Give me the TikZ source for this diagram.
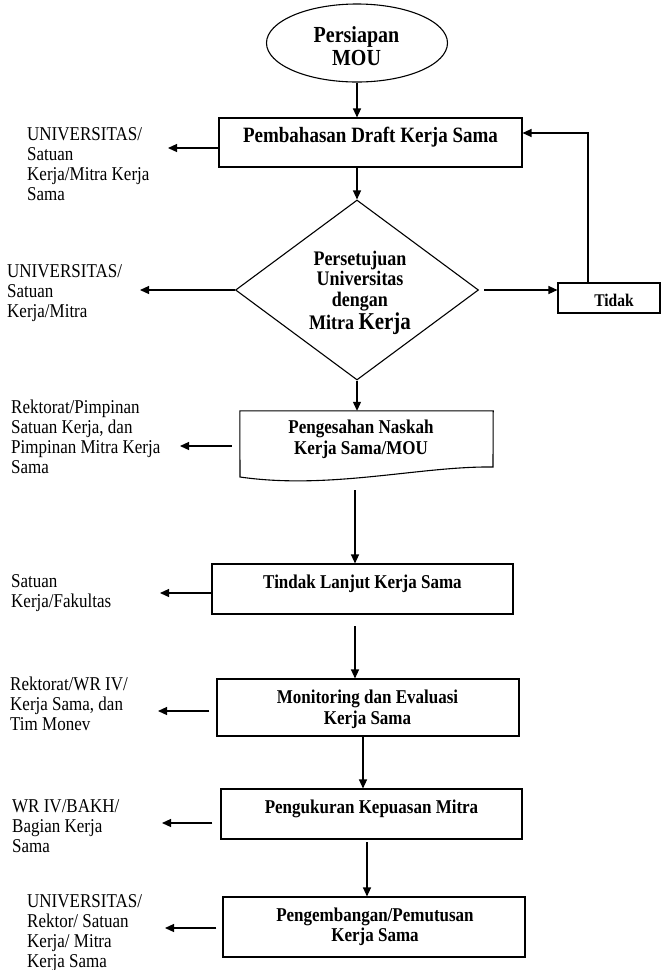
\documentclass[tikz,border=0pt]{standalone}
\usepackage{fontspec}
\usepackage{graphicx}
\setmainfont{Liberation Serif}
\usetikzlibrary{shapes.geometric,arrows.meta,calc}
\newcommand\lns[1]{\scalebox{1}[1.15]{\begin{tabular}[t]{@{}l@{}}#1\end{tabular}}}
\newcommand\cns[1]{\scalebox{1}[1.15]{\begin{tabular}[t]{@{}c@{}}#1\end{tabular}}}
\begin{document}
\begin{tikzpicture}[x=1pt,y=-1pt,
  box/.style={draw, line width=1.1pt, inner sep=0pt, rectangle},
  arr/.style={line width=1.2pt, -{Triangle[length=9pt,width=8pt]}},
  lbl/.style={anchor=base west, inner sep=0pt, font=\fontsize{17}{17.4}\selectfont},
  btx/.style={anchor=base, inner sep=0pt, font=\bfseries\fontsize{17}{18.3}\selectfont}]
\useasboundingbox (0,0) rectangle (661,970);

% start ellipse
\node[draw, ellipse, line width=1.1pt, minimum width=181pt, minimum height=78pt, inner sep=0pt] (mou) at (357,43) {};
\node[btx, font=\bfseries\fontsize{20}{20}\selectfont] (tmou) at (356.5,42) {\cns{Persiapan\\MOU}};

% boxes
\node[box, minimum width=303pt, minimum height=49pt] (pd) at (370.5,142.5) {};
\node[btx, font=\bfseries\fontsize{19}{19}\selectfont] (tpd) at (370.5,142) {\cns{Pembahasan Draft Kerja Sama}};

\node[draw, diamond, line width=1.1pt, aspect=1.35, minimum width=243pt, minimum height=180pt, inner sep=0pt] (dia) at (357,290) {};
\node[btx, font=\bfseries\fontsize{18}{18}\selectfont] (tdia) at (360,265) {\cns{Persetujuan\\Universitas\\dengan\\Mitra {\fontsize{21}{18}\selectfont Kerja}}};

\node[box, minimum width=102pt, minimum height=30pt] (td) at (609,298) {};
\node[btx, font=\bfseries\fontsize{15.5}{16}\selectfont] (ttd) at (614,306) {\cns{Tidak}};

\node[minimum width=253pt, minimum height=67pt, inner sep=0pt] (doc) at (366.5,444.5) {};
\draw[line width=1.1pt] (doc.north west) -- (doc.north east) -- (493,467) .. controls (420,466) and (330,490) .. (240,477) -- cycle;
\node[btx, font=\bfseries\fontsize{17}{19.1}\selectfont] (tdoc) at (361,433) {\cns{Pengesahan Naskah\\Kerja Sama/MOU}};

\node[box, minimum width=301pt, minimum height=50pt] (tl) at (362.5,589) {};
\node[btx] (ttl) at (362.5,588) {\cns{Tindak Lanjut Kerja Sama}};

\node[box, minimum width=302pt, minimum height=57pt] (mon) at (368,707.5) {};
\node[btx] (tmon) at (367.5,703) {\cns{Monitoring dan Evaluasi\\Kerja Sama}};

\node[box, minimum width=301pt, minimum height=50pt] (pk) at (371.5,814) {};
\node[btx] (tpk) at (371.5,813) {\cns{Pengukuran Kepuasan Mitra}};

\node[box, minimum width=302pt, minimum height=60pt] (pg) at (374,927) {};
\node[btx, font=\bfseries\fontsize{17}{17.4}\selectfont] (tpg) at (375,921) {\cns{Pengembangan/Pemutusan\\Kerja Sama}};

% side labels
\node[lbl] (l1) at (27,140) {\lns{UNIVERSITAS/\\Satuan\\Kerja/Mitra Kerja\\Sama}};
\node[lbl] (l2) at (7,277) {\lns{UNIVERSITAS/\\Satuan\\Kerja/Mitra}};
\node[lbl] (l3) at (11,413) {\lns{Rektorat/Pimpinan\\Satuan Kerja, dan\\Pimpinan Mitra Kerja\\Sama}};
\node[lbl] (l4) at (11,587) {\lns{Satuan\\Kerja/Fakultas}};
\node[lbl] (l5) at (10,690) {\lns{Rektorat/WR IV/\\Kerja Sama, dan\\Tim Monev}};
\node[lbl] (l6) at (12,812) {\lns{WR IV/BAKH/\\Bagian Kerja\\Sama}};
\node[lbl] (l7) at (27,907) {\lns{UNIVERSITAS/\\Rektor/ Satuan\\Kerja/ Mitra\\Kerja Sama}};

% left arrow ends
\coordinate (a1) at (168,148);
\coordinate (a2) at (140,290);
\coordinate (a3) at (180,446);
\coordinate (a4) at (160,593);
\coordinate (a5) at (158,711);
\coordinate (a6) at (162,823);
\coordinate (a7) at (165,928);
\draw[arr] (a1 -| pd.west) -- (a1);
\draw[arr] (a2 -| dia.west) -- (a2);
\draw[arr] ($(a3 -| doc.west)+(-8,0)$) -- (a3);
\draw[arr] (a4 -| tl.west) -- (a4);
\draw[arr] ($(a5 -| mon.west)+(-7,0)$) -- (a5);
\draw[arr] ($(a6 -| pk.west)+(-8,0)$) -- (a6);
\draw[arr] ($(a7 -| pg.west)+(-6,0)$) -- (a7);

% main flow
\draw[arr] (mou.south) -- (mou.south |- pd.north);
\draw[arr] (pd.south -| dia.north) -- (dia.north);
\draw[arr] ($(dia.east)+(5,0)$) -- (dia.east -| td.west);
\coordinate (fb) at (588,133);
\draw[arr] (fb |- td.north) -- (fb) -- (fb -| pd.east);
\draw[arr] (dia.south) -- (dia.south |- doc.north);
\coordinate (v1) at (355,490);
\draw[arr] (v1) -- (v1 |- tl.north);
\coordinate (v2) at (355,626);
\draw[arr] (v2) -- (v2 |- mon.north);
\coordinate (v3) at (363,736);
\draw[arr] (v3) -- (v3 |- pk.north);
\coordinate (v4) at (367,842);
\draw[arr] (v4) -- (v4 |- pg.north);
\end{tikzpicture}
\end{document}
